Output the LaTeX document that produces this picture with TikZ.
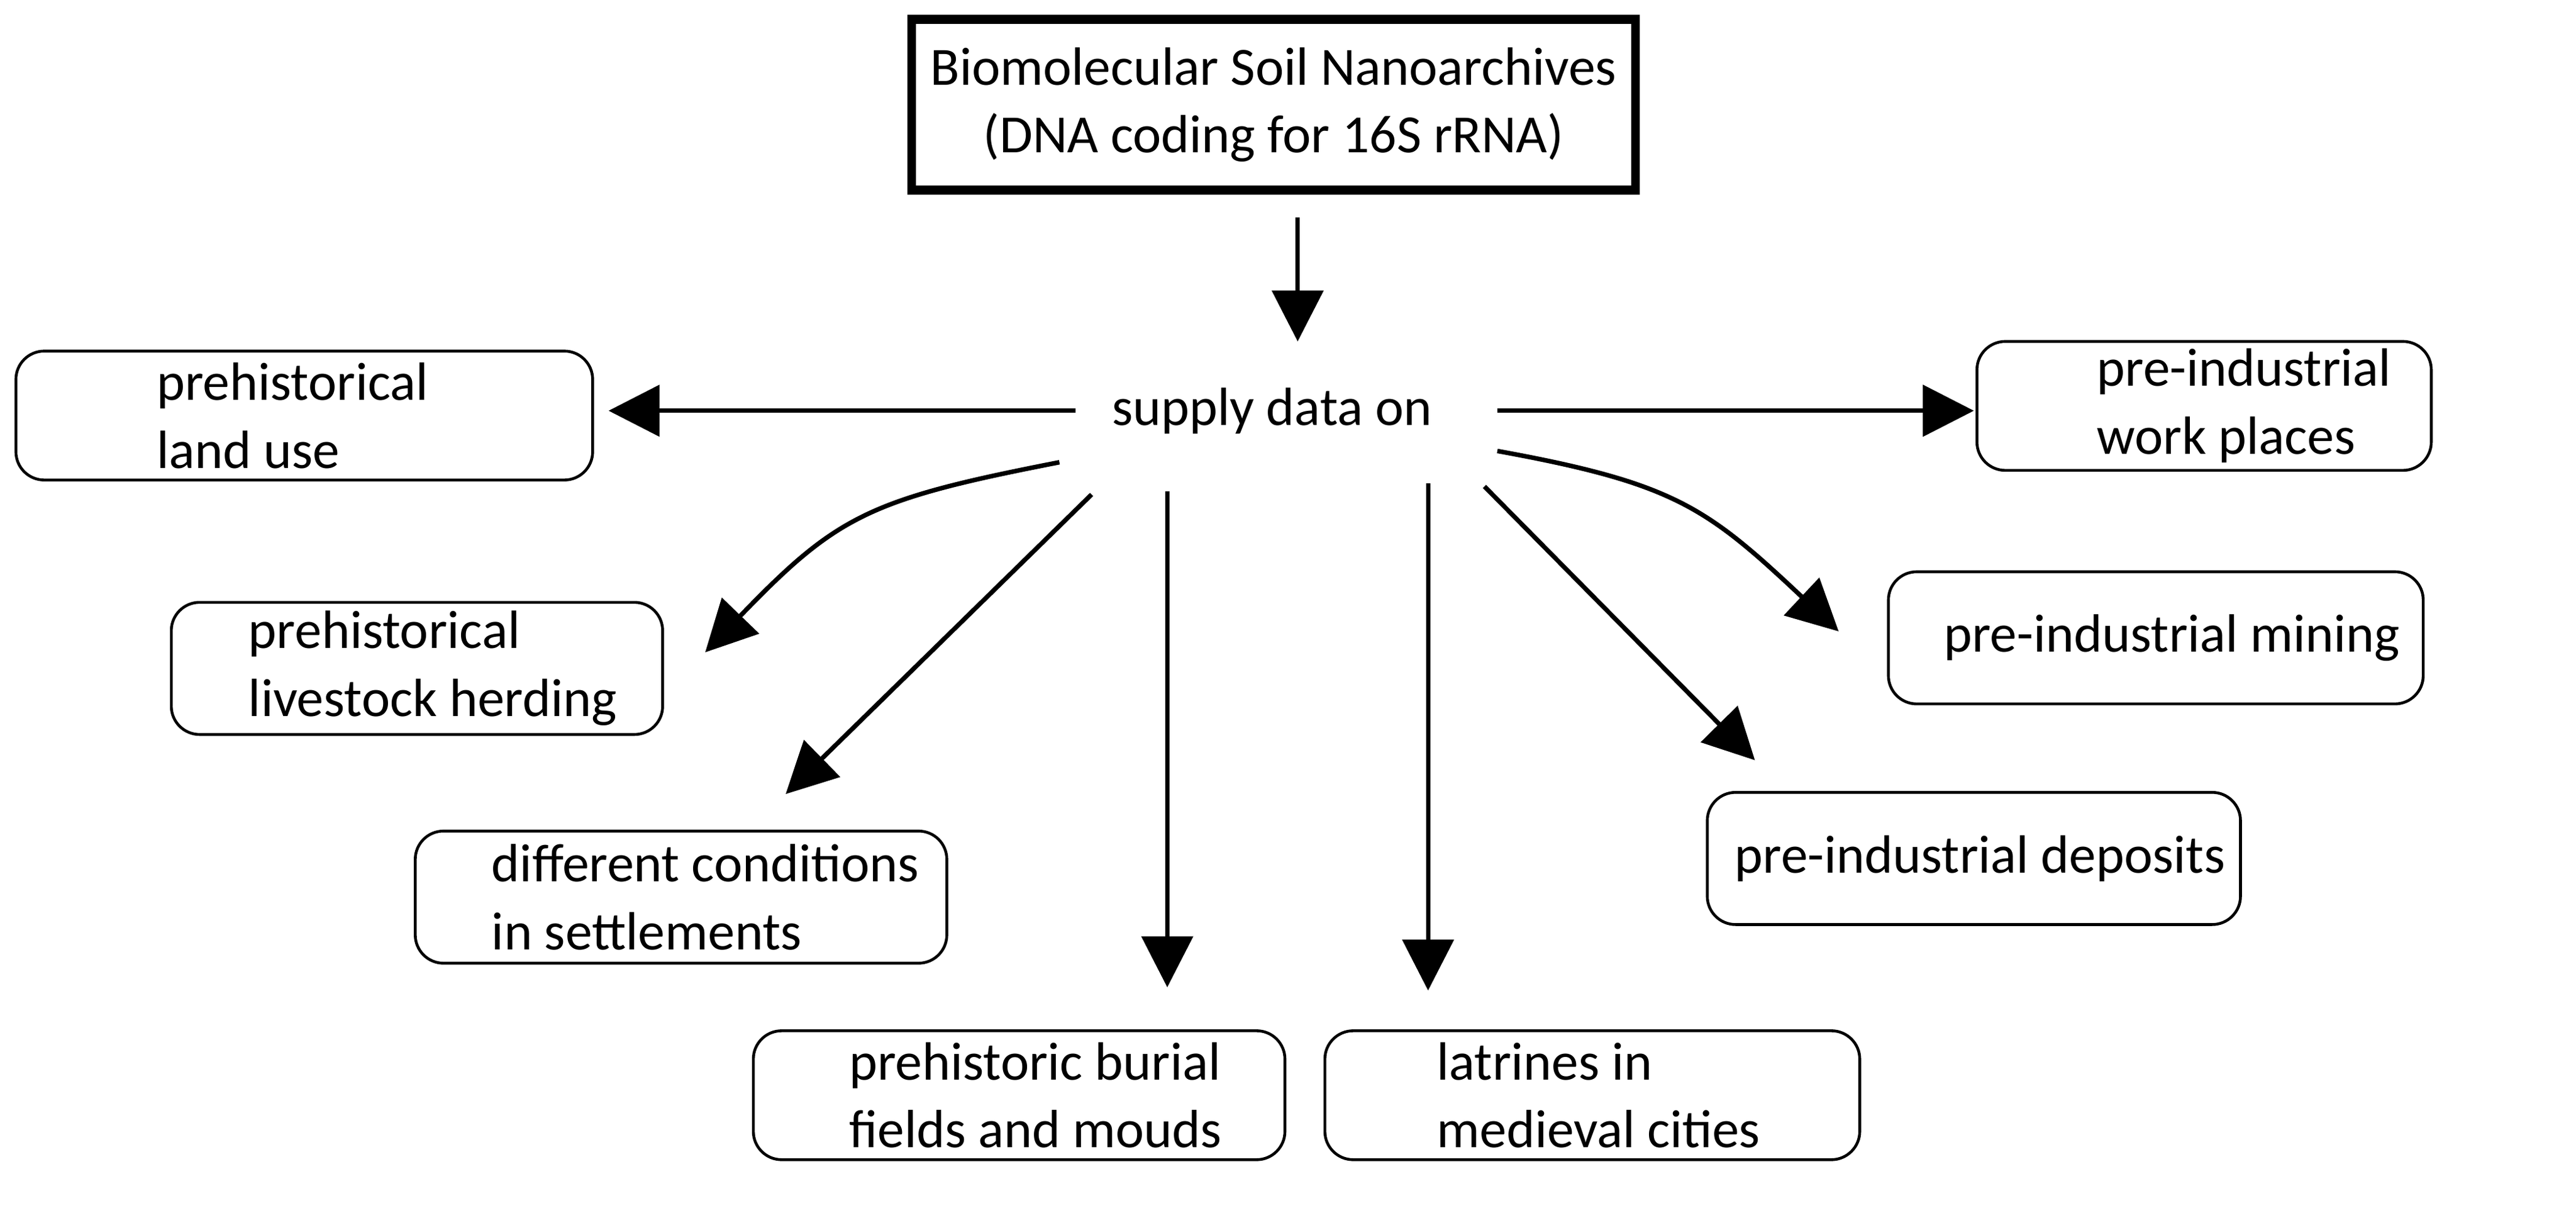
\documentclass[tikz,border=0pt]{standalone}
\usepackage{fontspec}
\setmainfont{Carlito}
\usetikzlibrary{arrows.meta}
\begin{document}
\begin{tikzpicture}[x=0.01cm,y=-0.01cm,
  box/.style={draw,rounded corners=5pt,line width=0.5pt,align=left,inner sep=0pt},
  arr/.style={line width=0.8pt,-{Triangle[length=9pt,width=9pt]}},
  every node/.style={font=\fontsize{9.5}{12}\selectfont}]
\useasboundingbox (0,0) rectangle (1600,750);
% source
\node [draw,line width=1.6pt,minimum width=4.28cm,minimum height=1.06cm,align=center] (src) at (791,65) {Biomolecular Soil Nanoarchives\\(DNA coding for 16S rRNA)};
\node (sup) at (790,255) {supply data on};
% targets
\node [box,minimum width=3.58cm,minimum height=0.8cm] (land) at (189,258) {};
\node [anchor=west,align=left] at (85,258) {prehistorical\\land use};
\node [box,minimum width=2.82cm,minimum height=0.8cm] (work) at (1369,252) {};
\node [anchor=west,align=left] at (1290,252) {pre-industrial\\work places};
\node [box,minimum width=3.05cm,minimum height=0.82cm] (herd) at (259,415) {};
\node [anchor=west,align=left] at (142,415) {prehistorical\\livestock herding};
\node [box,minimum width=3.32cm,minimum height=0.82cm] (mine) at (1339,396) {};
\node [anchor=west] at (1195,396) {pre-industrial mining};
\node [box,minimum width=3.3cm,minimum height=0.82cm] (sett) at (423,557) {};
\node [anchor=west,align=left] at (293,557) {different conditions\\in settlements};
\node [box,minimum width=3.31cm,minimum height=0.82cm] (depo) at (1226,533) {};
\node [anchor=west] at (1065,533) {pre-industrial deposits};
\node [box,minimum width=3.3cm,minimum height=0.8cm] (buri) at (633,680) {};
\node [anchor=west,align=left] at (515,680) {prehistoric burial\\fields and mouds};
\node [box,minimum width=3.32cm,minimum height=0.8cm] (latr) at (989,680) {};
\node [anchor=west,align=left] at (880,680) {latrines in\\medieval cities};
% connectors
\coordinate (s0) at (806,135); \coordinate (e0) at (806,212);
\draw [arr] (s0) -- (e0);
\coordinate (s1) at (668,255); \coordinate (e1) at (378,255);
\draw [arr] (s1) -- (e1);
\coordinate (s2) at (930,255); \coordinate (e2) at (1226,255);
\draw [arr] (s2) -- (e2);
\coordinate (s3) at (658,287); \coordinate (e3) at (438,405);
\draw [arr] (s3) .. controls (540,310) and (520,320) .. (e3);
\coordinate (s4) at (678,307); \coordinate (e4) at (488,493);
\draw [arr] (s4) -- (e4);
\coordinate (s5) at (725,305); \coordinate (e5) at (725,613);
\draw [arr] (s5) -- (e5);
\coordinate (s6) at (887,300); \coordinate (e6) at (887,615);
\draw [arr] (s6) -- (e6);
\coordinate (s7) at (922,302); \coordinate (e7) at (1090,472);
\draw [arr] (s7) -- (e7);
\coordinate (s8) at (930,280); \coordinate (e8) at (1142,392);
\draw [arr] (s8) .. controls (1040,300) and (1060,315) .. (e8);
\end{tikzpicture}
\end{document}
